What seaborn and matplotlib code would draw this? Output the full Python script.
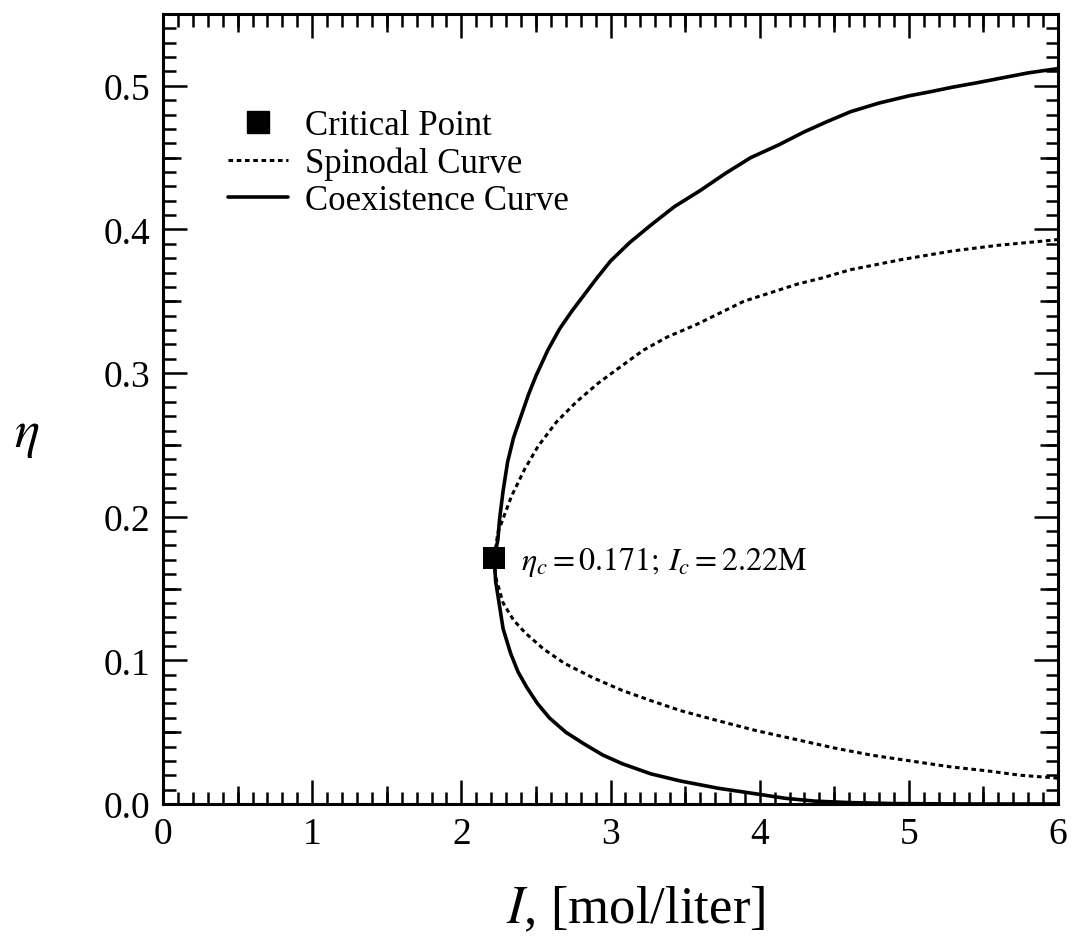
import numpy as np
import pandas as pd
import matplotlib
matplotlib.use("Agg")
import matplotlib.pyplot as plt
from matplotlib.lines import Line2D
from matplotlib.ticker import MultipleLocator, FormatStrFormatter
import seaborn as sns

# ---- data ----
crit_I = [2.22]
crit_eta = [0.171]

coex_upper_I = [2.22, 2.245, 2.256, 2.28, 2.31, 2.35, 2.40, 2.45, 2.50, 2.58, 2.66, 2.74, 2.82, 2.90, 3.00,
                3.13, 3.27, 3.43, 3.60, 3.77, 3.94, 4.13, 4.30, 4.45, 4.61, 4.80, 5.00, 5.15, 5.29, 5.45,
                5.60, 5.80, 6.00]
coex_upper_eta = [0.171, 0.184, 0.198, 0.218, 0.238, 0.255, 0.270, 0.285, 0.298, 0.316, 0.331, 0.343, 0.354,
                  0.365, 0.378, 0.391, 0.403, 0.416, 0.427, 0.439, 0.450, 0.459, 0.468, 0.475, 0.482, 0.488,
                  0.493, 0.496, 0.499, 0.502, 0.505, 0.509, 0.512]

coex_lower_I = [2.22, 2.23, 2.25, 2.28, 2.33, 2.38, 2.44, 2.51, 2.59, 2.70, 2.82, 2.95, 3.08, 3.27, 3.47,
                3.72, 3.98, 4.17, 4.37, 4.60, 4.90, 5.40, 6.00]
coex_lower_eta = [0.171, 0.155, 0.142, 0.122, 0.105, 0.092, 0.081, 0.070, 0.060, 0.050, 0.042, 0.034, 0.028,
                  0.021, 0.016, 0.011, 0.007, 0.004, 0.002, 0.001, 0.0003, 0.0, 0.0]

spin_upper_I = [2.22, 2.245, 2.335, 2.424, 2.514, 2.638, 2.772, 2.918, 3.075, 3.221, 3.378, 3.58, 3.737,
                3.894, 4.074, 4.254, 4.41, 4.61, 4.95, 5.29, 5.60, 5.91, 6.00]
spin_upper_eta = [0.171, 0.189, 0.214, 0.233, 0.249, 0.266, 0.280, 0.293, 0.305, 0.316, 0.325, 0.334, 0.342,
                  0.350, 0.356, 0.362, 0.366, 0.372, 0.379, 0.385, 0.389, 0.392, 0.393]

spin_lower_I = [2.22, 2.23, 2.28, 2.35, 2.43, 2.55, 2.69, 2.88, 3.08, 3.27, 3.47, 3.72, 3.98, 4.24, 4.50,
                4.75, 5.01, 5.27, 5.53, 5.75, 6.00]
spin_lower_eta = [0.171, 0.158, 0.140, 0.128, 0.119, 0.108, 0.098, 0.088, 0.079, 0.072, 0.065, 0.058, 0.051,
                  0.045, 0.039, 0.034, 0.030, 0.026, 0.023, 0.020, 0.018]

legend_labels = ["Critical Point", "Spinodal Curve", "Coexistence Curve"]
x_label = "$\\mathit{I}$, [mol/liter]"
y_label = "$\\eta$"
annot_text = "$\\eta_c = 0.171;\\, I_c = 2.22\\mathrm{M}$"

# ---- tables ----
coex = pd.DataFrame({
    "I": coex_lower_I[::-1] + coex_upper_I[1:],
    "eta": coex_lower_eta[::-1] + coex_upper_eta[1:],
})
spin = pd.DataFrame({
    "I": spin_lower_I[::-1] + spin_upper_I[1:],
    "eta": spin_lower_eta[::-1] + spin_upper_eta[1:],
})
crit = pd.DataFrame({"I": crit_I, "eta": crit_eta})

sns.set_theme(style="ticks")
plt.rcParams["font.family"] = ["Liberation Serif", "DejaVu Serif"]
plt.rcParams["mathtext.fontset"] = "stix"
for key in ("text.color", "axes.labelcolor", "xtick.color", "ytick.color", "axes.edgecolor"):
    plt.rcParams[key] = "black"

fig = plt.figure(figsize=(10.76, 9.37), dpi=100)
ax = fig.add_axes([163 / 1076, 1 - 805 / 937, 895 / 1076, 790 / 937])

dot_style = (0, (1.5, 1.2))
sns.lineplot(data=coex, x="I", y="eta", sort=False, estimator=None, ax=ax,
             color="black", linewidth=2.6, solid_joinstyle="round")
sns.lineplot(data=spin, x="I", y="eta", sort=False, estimator=None, ax=ax,
             color="black", linewidth=2.2, linestyle=dot_style)
sns.scatterplot(data=crit, x="I", y="eta", ax=ax, marker="s", s=16 ** 2,
                color="black", edgecolor="black", linewidth=0, zorder=5)

ax.set_xlim(0, 6)
ax.set_ylim(0, 0.55)

ax.xaxis.set_major_locator(MultipleLocator(1))
ax.xaxis.set_minor_locator(MultipleLocator(0.1))
ax.yaxis.set_major_locator(MultipleLocator(0.1))
ax.yaxis.set_minor_locator(MultipleLocator(0.01))
ax.yaxis.set_major_formatter(FormatStrFormatter("%.1f"))

ax.tick_params(which="both", direction="in", top=True, right=True, width=1.8, color="black",
               labelcolor="black")
ax.tick_params(which="major", length=17, labelsize=27, pad=9)
ax.tick_params(which="minor", length=9)
for s in ax.spines.values():
    s.set_linewidth(2.2)
    s.set_color("black")
    s.set_visible(True)

# medium ticks at the halves
for side in ("bottom", "top"):
    sec = ax.secondary_xaxis(side)
    sec.set_xticks(np.arange(0.5, 6, 1.0))
    sec.tick_params(direction="in", length=13, width=1.8, color="black",
                    labelbottom=False, labeltop=False)
    sec.spines[side].set_visible(False)
for side in ("left", "right"):
    sec = ax.secondary_yaxis(side)
    sec.set_yticks(np.arange(0.05, 0.55, 0.1))
    sec.tick_params(direction="in", length=13, width=1.8, color="black",
                    labelleft=False, labelright=False)
    sec.spines[side].set_visible(False)

ax.set_xlabel(x_label, fontsize=38, color="black")
ax.xaxis.set_label_coords((636 - 163) / 895, -0.102)
ax.set_ylabel(y_label, fontsize=38, rotation=0, color="black")
ax.yaxis.set_label_coords((27 - 163) / 895, 0.437)

ax.annotate(annot_text, xy=(crit_I[0], crit_eta[0]), xytext=(19, -2),
            textcoords="offset points", fontsize=23, va="center", ha="left", color="black")

handles = [
    Line2D([], [], color="black", marker="s", markersize=16, linestyle="none"),
    Line2D([], [], color="black", linewidth=2.2, linestyle=dot_style),
    Line2D([], [], color="black", linewidth=2.6),
]
leg = ax.legend(handles, legend_labels, loc="upper left",
                bbox_to_anchor=((228 - 163) / 895, (805 - 110) / 790),
                frameon=False, fontsize=25, handlelength=1.73, handletextpad=0.5,
                labelspacing=0.12, borderpad=0, borderaxespad=0)
for t in leg.get_texts():
    t.set_color("black")

fig.savefig("out.png", dpi=100)
